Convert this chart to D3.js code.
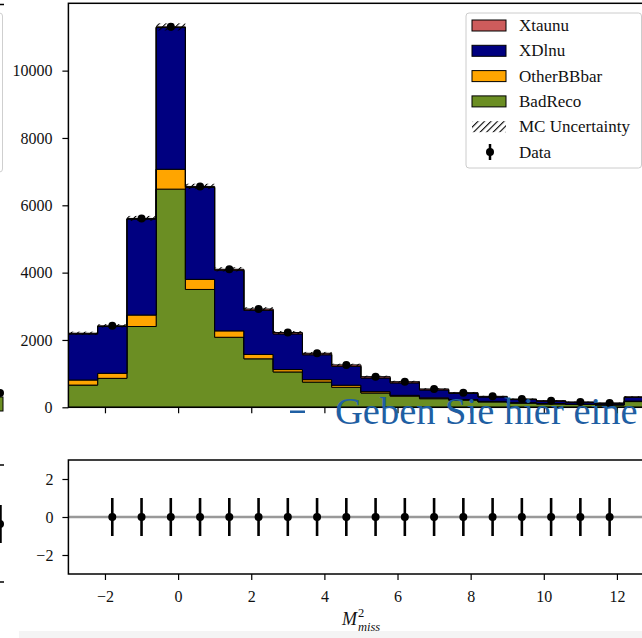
<!DOCTYPE html>
<html>
<head>
<meta charset="utf-8">
<script src="https://cdn.jsdelivr.net/npm/d3@7"></script>
<style>
  body { margin: 0; background: #fff; }
  svg { display: block; }
  text { font-family: 'Liberation Serif', 'DejaVu Serif', serif; }
</style>
</head>
<body>
<svg id="chart" width="642" height="638"></svg>
<script>
// ---- binning (M^2_miss, width 0.8) ----
const binLow = [-3.0, -2.2, -1.4, -0.6, 0.2, 1.0, 1.8, 2.6, 3.4, 4.2,
                5.0, 5.8, 6.6, 7.4, 8.2, 9.0, 9.8, 10.6, 11.4, 12.2];
const binWidth = 0.8;

// ---- stacked MC components, bottom to top ----
const badReco  = [660, 860, 2400, 6480, 3500, 2080, 1440, 1050, 750, 595, 425, 330, 255, 210, 160, 125, 100, 85, 70, 170];
const otherBB  = [150, 150, 340, 590, 300, 190, 130, 70, 70, 60, 40, 25, 25, 20, 15, 12, 10, 8, 6, 15];
const xDlnu    = [1370, 1390, 2850, 4210, 2730, 1800, 1310, 1060, 740, 560, 405, 370, 235, 180, 130, 92, 70, 52, 40, 110];
const xTaunu   = [20, 20, 20, 20, 30, 30, 40, 40, 45, 45, 40, 35, 30, 25, 20, 18, 15, 13, 12, 15];
const mcUnc    = [47, 49, 75, 106, 81, 64, 54, 47, 40, 35, 30, 28, 23, 21, 18, 16, 14, 13, 11, 18];

// ---- data points ----
const dataX    = [-1.8, -1.0, -0.2, 0.6, 1.4, 2.2, 3.0, 3.8, 4.6, 5.4, 6.2, 7.0, 7.8, 8.6, 9.4, 10.2, 11.0, 11.8];
const dataY    = [2420, 5610, 11300, 6560, 4100, 2920, 2220, 1605, 1260, 910, 760, 545, 435, 325, 247, 195, 158, 128];
const dataErr  = [49, 75, 106, 81, 64, 54, 47, 40, 35, 30, 28, 23, 21, 18, 16, 14, 13, 11];
const pullY    = [0, 0, 0, 0, 0, 0, 0, 0, 0, 0, 0, 0, 0, 0, 0, 0, 0, 0];
const pullErr  = [1, 1, 1, 1, 1, 1, 1, 1, 1, 1, 1, 1, 1, 1, 1, 1, 1, 1];

// ---- ticks & labels ----
const mainYTicks  = [0, 2000, 4000, 6000, 8000, 10000];
const ratioYTicks = [-2, 0, 2];
const xTicks      = [-2, 0, 2, 4, 6, 8, 10, 12];
const stackNames  = ["BadReco", "OtherBBbar", "XDlnu", "Xtaunu"];
const stackValues = [badReco, otherBB, xDlnu, xTaunu];
const legendLabels = ["Xtaunu", "XDlnu", "OtherBBbar", "BadReco", "MC Uncertainty", "Data"];
const colors = { Xtaunu: "#cd5c5c", XDlnu: "#000080", OtherBBbar: "#ffa500", BadReco: "#6b8e23" };

const FONT = "'Liberation Serif', 'DejaVu Serif', serif";
const svg = d3.select("#chart");

// ---- geometry ----
const left = 68.4, right = 653.5;
const mainTop = 3.3, mainBot = 407.3;
const ratTop = 460, ratBot = 574;

const x = d3.scaleLinear().domain([-3, 13]).range([left, right]);
const y = d3.scaleLinear().domain([0, 12000]).range([mainBot, mainTop]);
const yr = d3.scaleLinear().domain([-3, 3]).range([ratBot, ratTop]);

// hatch for MC uncertainty
const defs = svg.append("defs");
defs.append("pattern")
  .attr("id", "hatch").attr("patternUnits", "userSpaceOnUse")
  .attr("width", 4.6).attr("height", 4.6)
  .attr("patternTransform", "rotate(45)")
  .append("line").attr("x1", 0).attr("y1", 0).attr("x2", 0).attr("y2", 4.6)
  .attr("stroke", "#000").attr("stroke-width", 2.2);
defs.append("clipPath").attr("id", "mainClip")
  .append("rect").attr("x", left).attr("y", mainTop).attr("width", right - left).attr("height", mainBot - mainTop);
defs.append("clipPath").attr("id", "ratClip")
  .append("rect").attr("x", left).attr("y", ratTop).attr("width", right - left).attr("height", ratBot - ratTop);

// ---- neighbouring figure edge (left margin) ----
const edge = svg.append("g");
edge.append("rect").attr("x", -200).attr("y", 13).attr("width", 202.5).attr("height", 159).attr("rx", 3)
  .attr("fill", "none").attr("stroke", "#cfcfcf").attr("stroke-width", 1);
edge.append("line").attr("x1", 0).attr("x2", 4).attr("y1", 4.5).attr("y2", 4.5).attr("stroke", "#000").attr("stroke-width", 1.5);
edge.append("rect").attr("x", -6).attr("y", 397).attr("width", 9).attr("height", 14)
  .attr("fill", colors.BadReco).attr("stroke", "#000").attr("stroke-width", 1);
edge.append("circle").attr("cx", 0).attr("cy", 393).attr("r", 4).attr("fill", "#000");
edge.append("line").attr("x1", 0).attr("x2", 4).attr("y1", 465).attr("y2", 465).attr("stroke", "#000").attr("stroke-width", 1.5);
edge.append("line").attr("x1", 0).attr("x2", 4).attr("y1", 582).attr("y2", 582).attr("stroke", "#000").attr("stroke-width", 1.5);
edge.append("line").attr("x1", 0.5).attr("x2", 0.5).attr("y1", 505).attr("y2", 543).attr("stroke", "#000").attr("stroke-width", 2.5);
edge.append("circle").attr("cx", 0).attr("cy", 524).attr("r", 4).attr("fill", "#000");
svg.append("rect").attr("x", 19).attr("y", 631).attr("width", 623).attr("height", 7).attr("fill", "#f4f4f4");

// ---- main panel: stacked step histograms ----
const gMain = svg.append("g").attr("clip-path", "url(#mainClip)");
const cumulative = binLow.map(() => 0);
const area = d3.area().x(d => x(d.x)).y0(d => y(d.y0)).y1(d => y(d.y1));
stackNames.forEach((name, k) => {
  const vals = stackValues[k];
  const pts = [];
  binLow.forEach((lo, i) => {
    const y0 = cumulative[i], y1 = cumulative[i] + vals[i];
    pts.push({ x: lo, y0, y1 }, { x: lo + binWidth, y0, y1 });
    cumulative[i] = y1;
  });
  gMain.append("path").datum(pts).attr("d", area)
    .attr("fill", colors[name]).attr("stroke", "#000").attr("stroke-width", 1)
    .attr("stroke-linejoin", "miter");
});

// MC uncertainty band
gMain.selectAll("rect.unc").data(binLow).join("rect").attr("class", "unc")
  .attr("x", d => x(d)).attr("width", x(binWidth) - x(0))
  .attr("y", (d, i) => y(cumulative[i] + mcUnc[i]))
  .attr("height", (d, i) => y(cumulative[i] - mcUnc[i]) - y(cumulative[i] + mcUnc[i]))
  .attr("fill", "url(#hatch)");

// data with errors
gMain.selectAll("line.derr").data(dataX).join("line").attr("class", "derr")
  .attr("x1", d => x(d)).attr("x2", d => x(d))
  .attr("y1", (d, i) => y(dataY[i] - dataErr[i])).attr("y2", (d, i) => y(dataY[i] + dataErr[i]))
  .attr("stroke", "#000").attr("stroke-width", 2.5);
gMain.selectAll("circle.dpt").data(dataX).join("circle").attr("class", "dpt")
  .attr("cx", d => x(d)).attr("cy", (d, i) => y(dataY[i])).attr("r", 4).attr("fill", "#000");

// main axes
function styleAxis(g) {
  g.attr("font-family", FONT).attr("font-size", 16);
  g.select(".domain").remove();
  g.selectAll(".tick line").attr("stroke", "#000").attr("stroke-width", 1.2);
  g.selectAll(".tick text").attr("fill", "#111").style("font-family", FONT).style("font-size", "16px");
}
svg.append("g").attr("transform", `translate(${left},0)`)
  .call(d3.axisLeft(y).tickValues(mainYTicks).tickSize(6).tickPadding(10).tickFormat(d3.format("d")))
  .call(styleAxis);
svg.append("g").attr("transform", `translate(0,${mainBot})`)
  .call(d3.axisBottom(x).tickValues(xTicks).tickSize(6).tickFormat(""))
  .call(styleAxis);
svg.append("rect").attr("x", left).attr("y", mainTop).attr("width", right - left).attr("height", mainBot - mainTop)
  .attr("fill", "none").attr("stroke", "#000").attr("stroke-width", 1.5);

// ---- legend ----
const lg = svg.append("g");
lg.append("rect").attr("x", 466).attr("y", 13).attr("width", 175.5).attr("height", 155).attr("rx", 3)
  .attr("fill", "#fff").attr("fill-opacity", 0.8).attr("stroke", "#cccccc").attr("stroke-width", 1);
legendLabels.forEach((lab, i) => {
  const cy = 25.5 + i * 25.3;
  if (colors[lab]) {
    lg.append("rect").attr("x", 472).attr("y", cy - 5.5).attr("width", 34).attr("height", 11)
      .attr("fill", colors[lab]).attr("stroke", "#000").attr("stroke-width", 1);
  } else if (lab === "MC Uncertainty") {
    lg.append("rect").attr("x", 472).attr("y", cy - 5.5).attr("width", 34).attr("height", 11)
      .attr("fill", "url(#hatch)");
  } else {
    lg.append("line").attr("x1", 490).attr("x2", 490).attr("y1", cy - 8).attr("y2", cy + 8)
      .attr("stroke", "#000").attr("stroke-width", 2.5);
    lg.append("circle").attr("cx", 490).attr("cy", cy).attr("r", 4).attr("fill", "#000");
  }
  lg.append("text").attr("x", 519).attr("y", cy + 5.5).text(lab)
    .attr("fill", "#111").style("font-family", FONT).style("font-size", "17px");
});

// ---- ratio / pull panel ----
const gRat = svg.append("g").attr("clip-path", "url(#ratClip)");
gRat.append("line").attr("x1", left).attr("x2", right).attr("y1", yr(0)).attr("y2", yr(0))
  .attr("stroke", "#999").attr("stroke-width", 2.5);
gRat.selectAll("line.perr").data(dataX).join("line").attr("class", "perr")
  .attr("x1", d => x(d)).attr("x2", d => x(d))
  .attr("y1", (d, i) => yr(pullY[i] - pullErr[i])).attr("y2", (d, i) => yr(pullY[i] + pullErr[i]))
  .attr("stroke", "#000").attr("stroke-width", 2.6);
gRat.selectAll("circle.ppt").data(dataX).join("circle").attr("class", "ppt")
  .attr("cx", d => x(d)).attr("cy", (d, i) => yr(pullY[i])).attr("r", 4).attr("fill", "#000");

svg.append("g").attr("transform", `translate(${left},0)`)
  .call(d3.axisLeft(yr).tickValues(ratioYTicks).tickSize(6).tickPadding(9).tickFormat(d3.format("d")))
  .call(styleAxis);
svg.append("g").attr("transform", `translate(0,${ratBot})`)
  .call(d3.axisBottom(x).tickValues(xTicks).tickSize(6).tickPadding(11).tickFormat(d3.format("d")))
  .call(styleAxis);
svg.append("rect").attr("x", left).attr("y", ratTop).attr("width", right - left).attr("height", ratBot - ratTop)
  .attr("fill", "none").attr("stroke", "#000").attr("stroke-width", 1.5);

// x-axis title: M^2_miss
const cx = (left + right) / 2;
svg.append("text").attr("x", cx - 19).attr("y", 625).text("M")
  .style("font-family", FONT).style("font-style", "italic").style("font-size", "18px").attr("fill", "#111");
svg.append("text").attr("x", cx - 3).attr("y", 617).text("2")
  .style("font-family", FONT).style("font-size", "12.5px").attr("fill", "#111");
svg.append("text").attr("x", cx - 3).attr("y", 631).text("miss")
  .style("font-family", FONT).style("font-style", "italic").style("font-size", "12.5px").attr("fill", "#111");

// equation placeholder text laid over the figure
svg.append("rect").attr("x", 290).attr("y", 410.5).attr("width", 15).attr("height", 2.5).attr("fill", "#1f5fa3");
svg.append("text").attr("x", 335).attr("y", 424).text("Geben Sie hier eine")
  .style("font-family", FONT).style("font-size", "38.5px").attr("fill", "#1f5fa3");
</script>
</body>
</html>
